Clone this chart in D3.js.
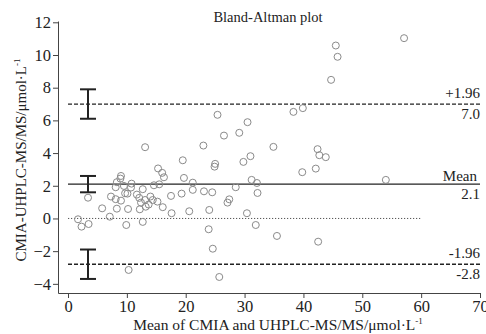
<!DOCTYPE html>
<html>
<head>
<meta charset="utf-8">
<script src="https://cdn.jsdelivr.net/npm/d3@7"></script>
<style>
  body { margin: 0; background: #fff; }
  text { font-family: "Liberation Serif", "Times New Roman", serif; }
</style>
</head>
<body>
<div id="chart"></div>
<script>
// mean of the two methods (x) and their difference (y)
const meanVals = [
  1.7, 2.3, 3.5, 3.4, 5.8, 7.1, 7.3, 8.1, 8.3, 9.0,
  8.3, 8.1, 9.0, 8.9, 9.5, 9.7, 10.1, 10.2, 9.9, 10.7,
  10.8, 10.3, 11.7, 12.1, 12.7, 12.4, 12.2, 12.7, 13.1, 13.2,
  14.0, 13.7, 14.4, 14.6, 15.5, 15.2, 16.1, 17.5, 19.3, 19.7,
  21.2, 21.2, 20.6, 17.6, 13.1, 15.3, 16.0, 16.3,
  30.5, 26.5, 29.1, 23.0, 19.5, 31.0, 29.8, 25.0, 24.9, 31.2,
  32.1, 28.5, 23.1, 24.5, 32.2, 27.4, 27.1, 24.0, 30.4, 23.9,
  31.9, 24.6, 25.7, 25.4,
  57.1, 45.5, 45.8, 44.7, 38.3, 39.9, 34.9, 42.4, 42.7, 43.8,
  39.8, 42.1, 54.0, 35.5, 42.5
];
const diffVals = [
  -0.05, -0.50, -0.34, 1.27, 0.62, 0.11, 1.34, 1.18, 0.60, 1.09,
  2.22, 1.91, 2.60, 2.44, 1.99, 1.54, 1.52, 0.58, -0.40, 1.89,
  2.13, -3.15, 1.46, 1.26, 1.79, 0.97, 0.56, -0.21, 1.13, 0.72,
  1.34, 0.85, 1.13, 2.03, 2.09, 1.03, 0.69, 1.38, 1.52, 2.48,
  1.75, 2.19, 0.44, 0.32, 4.36, 3.06, 2.79, 2.52,
  5.89, 5.07, 5.24, 4.46, 3.56, 3.81, 3.46, 3.34, 3.17, 2.36,
  2.17, 1.91, 1.66, 1.60, 1.56, 1.17, 0.97, 0.52, 0.32, -0.66,
  -0.40, -1.85, -3.58, 6.34,
  11.03, 10.58, 9.89, 8.48, 6.52, 6.75, 4.38, 4.24, 3.87, 3.75,
  2.83, 3.05, 2.36, -1.07, -1.42
];

// agreement lines: value, label above, label below
const limitVals = [7.0, 2.1, -2.8];
const limitTop = ["+1.96", "Mean", "-1.96"];
const limitBottom = ["7.0", "2.1", "-2.8"];
// confidence intervals of each line (drawn as error bars at x = 3.4)
const ciLow = [6.1, 1.6, -3.7];
const ciHigh = [7.9, 2.6, -1.9];
const ciX = 3.4;

const xTicks = [0, 10, 20, 30, 40, 50, 60, 70];
const yTicks = [-4, -2, 0, 2, 4, 6, 8, 10, 12];

const W = 486, H = 334;
const svg = d3.select("#chart").append("svg")
  .attr("width", W).attr("height", H);

const x = d3.scaleLinear().domain([-1.7, 70]).range([58, 480]);
const y = d3.scaleLinear().domain([-4.56, 12.08]).range([293, 21]);

// 坐标轴
const xAxis = svg.append("g")
  .attr("transform", `translate(0,${y.range()[0]})`)
  .call(d3.axisBottom(x).tickValues(xTicks).tickSize(5).tickSizeOuter(0).tickPadding(2));
const yAxis = svg.append("g")
  .attr("transform", `translate(${x.range()[0]},0)`)
  .call(d3.axisLeft(y).tickValues(yTicks).tickSize(5).tickSizeOuter(0).tickPadding(2));

[xAxis, yAxis].forEach(g => {
  g.selectAll("path, line").attr("stroke", "#444").attr("stroke-width", 1);
  g.selectAll("text")
    .style("font-family", '"Liberation Serif", serif')
    .style("font-size", "16.5px")
    .attr("fill", "#222");
});

// zero line (dotted)
svg.append("line")
  .attr("x1", x(0)).attr("x2", x(60))
  .attr("y1", y(0)).attr("y2", y(0))
  .attr("stroke", "#555")
  .attr("stroke-width", 1)
  .attr("stroke-dasharray", "1.2,1.8");

// mean and limits
limitVals.forEach((v, i) => {
  svg.append("line")
    .attr("x1", x(0)).attr("x2", x(70))
    .attr("y1", y(v)).attr("y2", y(v))
    .attr("stroke", "#222")
    .attr("stroke-width", 1.3)
    .attr("stroke-dasharray", i === 1 ? null : "4,2");

  svg.append("text")
    .attr("x", i === 1 ? 477 : 480)
    .attr("y", y(v) - (i === 1 ? 3 : 6))
    .attr("text-anchor", "end")
    .style("font-size", "15px")
    .attr("fill", "#222")
    .text(limitTop[i]);
  svg.append("text")
    .attr("x", 480)
    .attr("y", y(v) + 15)
    .attr("text-anchor", "end")
    .style("font-size", "15px")
    .attr("fill", "#222")
    .text(limitBottom[i]);
});

// error bars
const cap = 8;
limitVals.forEach((v, i) => {
  const g = svg.append("g")
    .attr("stroke", "#222")
    .attr("stroke-width", 2);
  g.append("line")
    .attr("x1", x(ciX)).attr("x2", x(ciX))
    .attr("y1", y(ciLow[i])).attr("y2", y(ciHigh[i]));
  [ciLow[i], ciHigh[i]].forEach(c => {
    g.append("line")
      .attr("x1", x(ciX) - cap).attr("x2", x(ciX) + cap)
      .attr("y1", y(c)).attr("y2", y(c));
  });
});

// points
svg.append("g")
  .selectAll("circle")
  .data(meanVals.map((m, i) => ({m, d: diffVals[i]})))
  .enter()
  .append("circle")
  .attr("cx", d => x(d.m))
  .attr("cy", d => y(d.d))
  .attr("r", 3.5)
  .attr("fill", "none")
  .attr("stroke", "#8a8a8a")
  .attr("stroke-width", 1);

// 标题
svg.append("text")
  .attr("x", 268).attr("y", 22)
  .attr("text-anchor", "middle")
  .style("font-size", "14.5px")
  .attr("fill", "#222")
  .text("Bland-Altman plot");

const xLabel = svg.append("text")
  .attr("x", 278).attr("y", 330)
  .attr("text-anchor", "middle")
  .style("font-size", "15.5px")
  .attr("fill", "#222");
xLabel.append("tspan").text("Mean of CMIA and UHPLC-MS/MS/μmol·L");
xLabel.append("tspan").attr("dy", -6).style("font-size", "9px").text("-1");

const yLabel = svg.append("text")
  .attr("transform", "translate(26,160) rotate(-90)")
  .attr("text-anchor", "middle")
  .style("font-size", "15px")
  .attr("fill", "#222");
yLabel.append("tspan").text("CMIA-UHPLC-MS/MS/μmol·L");
yLabel.append("tspan").attr("dy", -6).style("font-size", "9px").text("-1");
</script>
</body>
</html>
